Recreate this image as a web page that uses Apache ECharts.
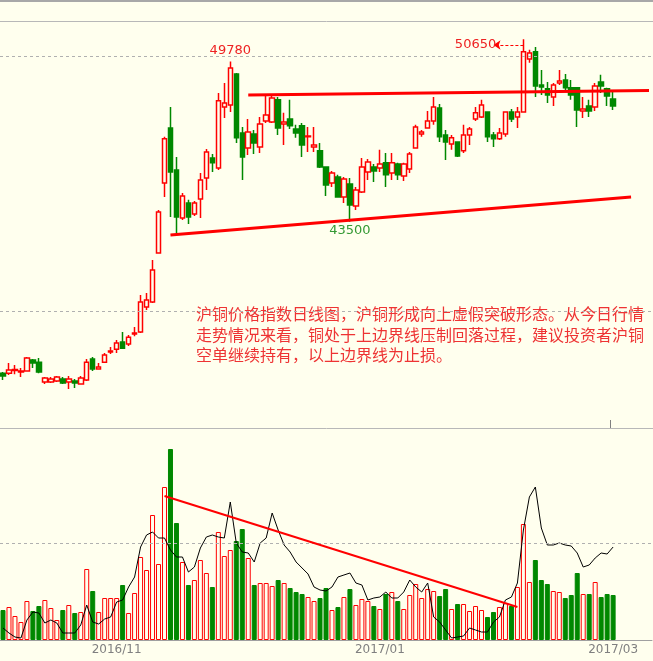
<!DOCTYPE html>
<html>
<head>
<meta charset="utf-8">
<script src="https://cdn.jsdelivr.net/npm/echarts@6/dist/echarts.min.js"></script>
<style>
  html, body { margin: 0; padding: 0; background: #ffffee; }
  #main { width: 653px; height: 661px; }
</style>
</head>
<body>
<div id="main"></div>
<script>
// 日K线: [open, close, low, high]
var candles = [
  [37570,37460,37300,37610],[37570,37690,37500,37970],[37670,37710,37530,37890],[37610,37650,37420,37770],
  [37650,38160,37640,38200],[38080,37970,37770,38120],[38000,37610,37570,38160],[37220,37380,37140,37420],
  [37220,37340,37180,37420],[37260,37420,37220,37460],[37340,37180,37140,37420],[37220,37340,36950,37460],
  [37260,37180,36990,37340],[37140,37380,37140,37460],[37300,38000,37260,38120],[38120,37730,37650,38200],
  [37730,37810,37730,37970],[38000,38280,37970,38360],[38400,38440,38320,38590],[38510,38750,38360,38870],
  [38790,38550,38550,39180],[38710,38980,38630,39060],[39100,39140,39020,39380],[39180,40360,39140,40630],
  [40160,40440,40040,40710],[40360,41610,40320,42000],[42280,43880,42280,43960],[45020,46750,44470,46830],
  [47180,45450,43690,48000],[45530,43690,43060,46040],[43650,44510,43570,44630],[44240,43690,43410,44360],
  [43810,44240,43730,44320],[44390,45140,43650,45410],[45220,46240,44750,46350],[46000,45810,45450,46160],
  [45610,48240,45530,48550],[48000,48160,47570,48940],[48080,49530,47800,49780],[49290,46790,46590,49330],
  [46980,46040,45140,47220],[46390,47020,46120,47530],[46940,46590,46160,47100],[46430,47330,46200,47610],
  [47450,47690,47370,48470],[47410,48350,47370,48430],[48280,47180,46900,48390],[47330,47410,46510,47770],
  [47530,47260,47140,48280],[47140,46980,46790,47300],[47260,46510,46040,47370],[46830,46860,46240,47220],
  [46430,46510,46240,47220],[46280,45650,45610,46590],[45650,44940,44510,45650],[45020,45410,44860,45490],
  [45260,44470,44470,45340],[44470,45180,44240,45260],[44980,44160,43500,45220],[44120,44750,43960,44860],
  [44670,45650,44630,46000],[45450,45840,45140,45960],[45650,45490,45060,45770],[45610,45770,45450,46320],
  [45810,45340,44860,46200],[45410,45810,45140,46200],[45770,45340,45140,45810],[45300,45770,45100,45810],
  [45570,46160,45410,46240],[46390,47220,46390,47300],[46940,47020,46830,47100],[47180,47450,47180,47840],
  [47450,48000,47300,48390],[47960,46830,46630,48120],[46900,46630,45920,47100],[46550,46790,46320,46900],
  [46630,46080,46040,46630],[46280,46900,46200,47300],[46900,47140,46510,47220],[47530,47770,47450,48000],
  [47610,48080,47570,48280],[47800,46830,46630,47800],[46900,46750,46430,47020],[46750,46980,46710,47180],
  [46940,47800,46830,47800],[47800,47530,47410,47920],[47610,47800,47180,48000],[47800,50160,47800,50650],
  [49880,50120,49730,50240],[50160,48820,48390,50350],[48860,48780,48470,49450],[48710,48470,48160,48980],
  [48390,48860,48040,48940],[48940,49020,48860,49450],[49060,48750,48630,49290],[48750,48470,48280,49060],
  [48750,47880,47220,48780],[47840,47920,47570,48390],[48040,47840,47610,48280],[48000,48820,47840,48940],
  [48980,48820,48550,49260],[48710,48430,48040,48750],[48310,48040,47880,48590]
];
// 成交量
var volume = [
  30,33,24,18,39,29,34,40,32,20,30,35,27,28,71,49,28,42,42,42,
  55,27,47,83,70,125,76,153,191,117,78,55,60,80,67,53,108,84,90,99,
  111,82,55,57,57,54,60,57,52,48,46,43,39,42,52,30,33,43,51,35,
  41,39,34,31,46,48,39,31,45,56,42,51,49,44,51,31,36,36,29,34,
  30,23,28,33,37,34,53,116,58,80,60,56,49,48,42,45,67,46,46,58,
  43,46,45
];
// 持仓量
var openInterest = [
  12,7,3,2,20,28,27,17,20,17,7,7,7,15,35,18,16,21,23,38,
  40,53,63,93,105,108,102,102,90,83,83,68,73,92,103,105,103,102,138,97,
  88,87,78,97,102,127,110,95,88,78,72,66,53,50,49,53,63,65,67,57,
  55,40,42,43,48,42,42,48,60,53,48,57,23,18,10,2,3,4,12,10,
  8,8,18,23,40,43,57,110,143,153,112,95,95,97,95,94,87,73,75,82,
  87,86,93
];
var tickLabels = [[19, '2016/11'], [63, '2017/01'], [102, '2017/03']];
var slotCount = 109;
var upperLine = [[41, 48470], [108, 48650]];
var lowerLine = [[28, 42980], [105, 44470]];
var volLine = [[27, 144], [86, 33]];
var note = '沪铜价格指数日线图，沪铜形成向上虚假突破形态。从今日行情\n走势情况来看，铜处于上边界线压制回落过程，建议投资者沪铜\n空单继续持有，以上边界线为止损。';

var categories = [];
for (var i = 0; i < slotCount; i++) categories.push('');
tickLabels.forEach(function (t) { categories[t[0]] = t[1]; });

var RED = '#ff0000', GREEN = '#008800', BG = '#ffffee';

var volData = volume.map(function (v, i) {
  var up = candles[i][1] >= candles[i][0];
  return {
    value: v,
    itemStyle: up ? { color: BG, borderColor: RED, borderWidth: 1 } : { color: GREEN, borderColor: GREEN, borderWidth: 1 }
  };
});

var chart = echarts.init(document.getElementById('main'));
chart.setOption({
  backgroundColor: BG,
  animation: false,
  grid: [
    { left: -2, width: 654, top: 22, height: 406 },
    { left: -2, width: 654, top: 428, height: 212 }
  ],
  xAxis: [
    { type: 'category', gridIndex: 0, data: categories, boundaryGap: true,
      axisLine: { show: false }, axisTick: { show: false }, axisLabel: { show: false } },
    { type: 'category', gridIndex: 1, data: categories, boundaryGap: true,
      axisLine: { lineStyle: { color: '#a0a0a0' } }, axisTick: { show: false },
      axisLabel: { interval: 0, color: '#808080', fontSize: 12, fontFamily: 'DejaVu Sans', margin: 4 } }
  ],
  yAxis: [
    { gridIndex: 0, min: 35420, max: 51330, show: false, splitLine: { show: false } },
    { gridIndex: 1, min: 0, max: 212, show: false, splitLine: { show: false } }
  ],
  graphic: [
    { type: 'rect', shape: { x: 0, y: 0, width: 653, height: 2 }, style: { fill: '#a8a8a8' } },
    { type: 'line', shape: { x1: 0, y1: 21.5, x2: 653, y2: 21.5 }, style: { stroke: '#b8b8b8', lineWidth: 1 } },
    { type: 'line', shape: { x1: 0, y1: 428.5, x2: 653, y2: 428.5 }, style: { stroke: '#b8b8b8', lineWidth: 1 } },
    { type: 'line', shape: { x1: 610.5, y1: 420, x2: 610.5, y2: 428 }, style: { stroke: '#808080', lineWidth: 1 } },
    { type: 'text', left: 196, top: 304,
      style: { text: note, fill: '#ee3333', font: '16px "Noto Sans CJK SC"', lineHeight: 20.5 } }
  ],
  series: [
    {
      type: 'candlestick', xAxisIndex: 0, yAxisIndex: 0, data: candles, barWidth: 5,
      itemStyle: { color: BG, color0: GREEN, borderColor: RED, borderColor0: GREEN, borderWidth: 1.5 },
      markLine: {
        silent: true, symbol: 'none', label: { show: false },
        data: [
          { yAxis: 50000, lineStyle: { color: '#b0b0b0', type: [3, 3], width: 1 } },
          { yAxis: 40000, lineStyle: { color: '#b0b0b0', type: [3, 3], width: 1 } },
          [{ coord: upperLine[0] }, { coord: upperLine[1] }],
          [{ coord: lowerLine[0] }, { coord: lowerLine[1] }],
          [{ coord: [87, 50430], symbol: 'none' }, { coord: [82, 50430], symbol: 'arrow', symbolSize: 7,
            lineStyle: { type: [3, 2], width: 1 } }]
        ],
        lineStyle: { color: RED, width: 3, type: 'solid' }
      },
      markPoint: {
        symbol: 'circle', symbolSize: 0,
        data: [
          { coord: [38, 49780], label: { show: true, formatter: '49780', color: '#ee2222', offset: [0, -11] } },
          { coord: [58, 43500], label: { show: true, formatter: '43500', color: '#339933', offset: [0, 9] } },
          { coord: [79, 50430], label: { show: true, formatter: '50650', color: '#ee2222', offset: [0, 0] } }
        ],
        label: { fontSize: 13, fontFamily: 'DejaVu Sans' }
      }
    },
    {
      type: 'bar', xAxisIndex: 1, yAxisIndex: 1, data: volData, barWidth: 5,
      markLine: {
        silent: true, symbol: 'none', label: { show: false },
        data: [
          { yAxis: 97, lineStyle: { color: '#b0b0b0', type: [3, 3], width: 1 } },
          [{ coord: volLine[0] }, { coord: volLine[1] }]
        ],
        lineStyle: { color: RED, width: 2, type: 'solid' }
      }
    },
    {
      type: 'line', xAxisIndex: 1, yAxisIndex: 1, data: openInterest, showSymbol: false,
      lineStyle: { color: '#000000', width: 1 }
    }
  ]
});
</script>
</body>
</html>
